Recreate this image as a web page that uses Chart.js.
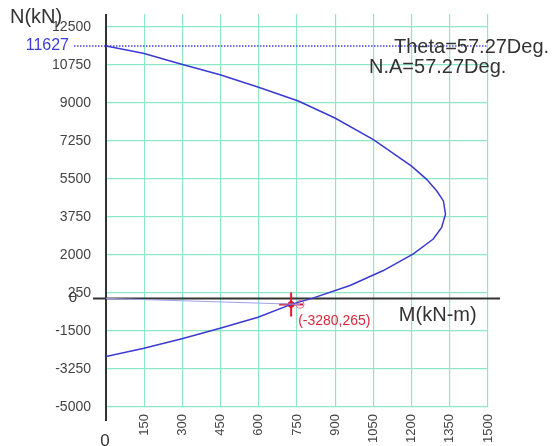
<!DOCTYPE html>
<html>
<head>
<meta charset="utf-8">
<script src="https://cdn.jsdelivr.net/npm/chart.js@4/dist/chart.umd.min.js"></script>
<style>
html,body{margin:0;padding:0;background:#fff;}
canvas{display:block;}
</style>
</head>
<body>
<canvas id="c" width="554" height="446"></canvas>
<script>
// P-M interaction curve (M in kN-m, N in kN)
const curveM = [0,146,297,448,602,755,899,1050,1200,1259,1299,1325,1333,1318,1285,1207,1089,958,809,727,597,448,298,145,0];
const curveN = [11627,11283,10780,10294,9712,9090,8306,7316,6093,5483,4947,4489,3880,3266,2735,2048,1283,596,0,-275,-870,-1374,-1855,-2304,-2680];
// load point and load line
const loadM = [727];
const loadN = [-275];
const ringM = [762];
const ringN = [-275];
const lineM = [0,762];
const lineN = [0,-275];
// axes
const xTicks = [150,300,450,600,750,900,1050,1200,1350,1500];
const yTicks = [-5000,-3250,-1500,250,2000,3750,5500,7250,9000,10750,12500];
const peakN = 11627;
const pointLabel = "(-3280,265)";
const thetaText = "Theta=57.27Deg.";
const naText = "N.A=57.27Deg.";

const zip = (a,b)=>a.map((v,i)=>({x:v,y:b[i]}));
const FONT = "'Liberation Sans', Arial, sans-serif";
const GRID = '#8de8c6';
const AX = '#333333';

const annot = {
  id:'annot',
  beforeDatasetsDraw(chart){
    const c = chart.ctx, xs = chart.scales.x, ys = chart.scales.y, a = chart.chartArea;
    const x0 = xs.getPixelForValue(0), y0 = ys.getPixelForValue(0);
    c.save();
    const yp = ys.getPixelForValue(peakN);
    c.strokeStyle = '#4848e0'; c.lineWidth = 1.5; c.setLineDash([1.5,1.5]);
    c.beginPath(); c.moveTo(x0-32, yp); c.lineTo(a.right, yp); c.stroke();
    c.setLineDash([]);
    c.strokeStyle = AX; c.lineWidth = 2;
    c.beginPath(); c.moveTo(x0, a.top); c.lineTo(x0, ys.getPixelForValue(-5000)+14); c.stroke();
    c.beginPath(); c.moveTo(x0-13, y0); c.lineTo(xs.getPixelForValue(1500)+12, y0); c.stroke();
    c.restore();
  },
  afterDraw(chart){
    const c = chart.ctx, xs = chart.scales.x, ys = chart.scales.y, a = chart.chartArea;
    const x0 = xs.getPixelForValue(0), y0 = ys.getPixelForValue(0);
    c.save();
    c.textBaseline = 'middle';
    c.fillStyle = AX;
    c.font = '20px ' + FONT; c.textAlign = 'left';
    c.fillText('N(kN)', 10, 17);
    c.fillText('M(kN-m)', xs.getPixelForValue(1150), y0 + 17);
    c.fillText(thetaText, 394, ys.getPixelForValue(peakN) + 2);
    c.fillText(naText, 369, ys.getPixelForValue(peakN) + 22);
    c.font = '17px ' + FONT; c.textAlign = 'center';
    c.fillText('0', x0 - 1, 441);
    c.font = '15px ' + FONT;
    c.fillText('0', 73, y0 - 1);
    c.fillStyle = '#3c3cd8'; c.font = '16px ' + FONT; c.textAlign = 'right';
    c.fillText(String(peakN), x0 - 37, ys.getPixelForValue(peakN));
    c.fillStyle = '#d8283c'; c.font = '14px ' + FONT; c.textAlign = 'left';
    c.fillText(pointLabel, xs.getPixelForValue(loadM[0]) + 7, ys.getPixelForValue(loadN[0]) + 17);
    c.restore();
  }
};

new Chart(document.getElementById('c'), {
  type: 'scatter',
  data: {
    datasets: [
      {data: zip(lineM,lineN), showLine:true, borderColor:'#a0a0f0', borderWidth:1, pointRadius:0},
      {data: zip(curveM,curveN), showLine:true, borderColor:'#3a3ad2', borderWidth:1.5, pointRadius:0, tension:0},
      {data: zip(ringM,ringN), pointStyle:'circle', pointRadius:4, backgroundColor:'rgba(0,0,0,0)', borderColor:'#e070a0', borderWidth:1},
      {data: zip(loadM,loadN), pointStyle:'cross', pointRadius:12, borderColor:'#e01828', borderWidth:2},
      {data: zip(loadM,loadN), pointStyle:'circle', pointRadius:3, backgroundColor:'#e01828', borderColor:'#e01828', borderWidth:1}
    ]
  },
  options: {
    responsive:false, animation:false,
    layout:{padding:{top:12, right:66, left:0, bottom:0}},
    plugins:{legend:{display:false}, tooltip:{enabled:false}},
    scales:{
      x:{
        type:'linear', min:0, max:1500,
        afterBuildTicks: s => { s.ticks = xTicks.map(v=>({value:v})); },
        afterFit: s => { s.height = 39; s.paddingLeft = 0; s.paddingRight = 0; s.paddingTop = 0; s.paddingBottom = 0; },
        grid:{color:GRID, lineWidth:1.2, drawTicks:false},
        border:{display:false},
        ticks:{autoSkip:false, minRotation:90, maxRotation:90, padding:7, color:'#444', font:{family:FONT, size:13}, callback: v => String(v)}
      },
      y:{
        type:'linear', min:-5000, max:13095,
        afterBuildTicks: s => { s.ticks = yTicks.map(v=>({value:v})); },
        afterFit: s => { s.width = 106; s.paddingTop = 0; s.paddingBottom = 0; s.paddingLeft = 0; s.paddingRight = 0; },
        grid:{color:GRID, lineWidth:1.2, drawTicks:false},
        border:{display:false},
        ticks:{autoSkip:false, padding:15, color:'#444', font:{family:FONT, size:14}, callback: v => String(v)}
      }
    }
  },
  plugins:[annot]
});
</script>
</body>
</html>
